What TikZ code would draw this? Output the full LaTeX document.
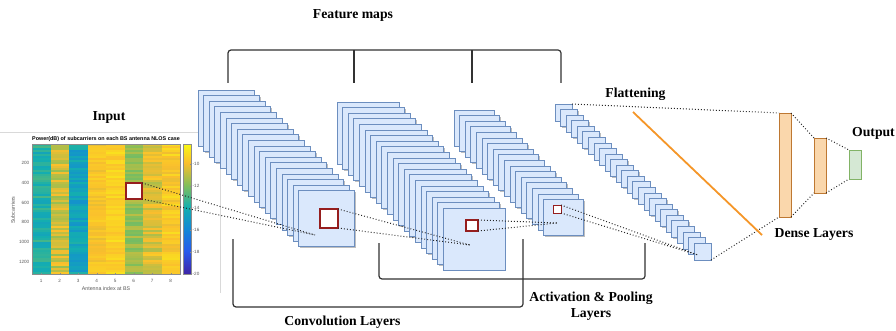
\documentclass[tikz,border=0pt]{standalone}
\usepackage{fontspec}
\setmainfont{Liberation Serif}
\newfontfamily\plotfont{Liberation Sans}
\definecolor{mapf}{RGB}{218,232,252}
\definecolor{mapb}{RGB}{108,142,191}
\definecolor{shadc}{RGB}{190,190,190}
\definecolor{densef}{RGB}{250,215,172}
\definecolor{denseb}{RGB}{190,120,50}
\definecolor{outf}{RGB}{213,232,212}
\definecolor{outb}{RGB}{130,179,102}
\definecolor{orangel}{RGB}{245,150,40}
\definecolor{redsq}{RGB}{150,30,30}
\definecolor{brk}{RGB}{50,50,50}
\definecolor{pc0}{RGB}{62,38,168}
\definecolor{pc1}{RGB}{40,90,235}
\definecolor{pc2}{RGB}{20,135,215}
\definecolor{pc3}{RGB}{20,175,175}
\definecolor{pc4}{RGB}{130,190,90}
\definecolor{pc5}{RGB}{250,190,45}
\definecolor{pc6}{RGB}{249,250,20}
\newcommand\hmmix[4]{\pgfmathsetmacro\hp{(\hv-#3)/(#4-#3)*100}\colorlet{hmc}{#2!\hp!#1}}
\newcommand\hmcolor[1]{%
  \pgfmathsetmacro\hv{max(0,min(1,#1))}%
  \pgfmathtruncatemacro\hseg{\hv<0.17?0:(\hv<0.34?1:(\hv<0.51?2:(\hv<0.68?3:(\hv<0.85?4:5))))}%
  \ifcase\hseg
    \hmmix{pc0}{pc1}{0}{0.17}\or
    \hmmix{pc1}{pc2}{0.17}{0.34}\or
    \hmmix{pc2}{pc3}{0.34}{0.51}\or
    \hmmix{pc3}{pc4}{0.51}{0.68}\or
    \hmmix{pc4}{pc5}{0.68}{0.85}\or
    \hmmix{pc5}{pc6}{0.85}{1.0}\fi}
\begin{document}
\begin{tikzpicture}[x=1pt,y=-1pt,
  lbl/.style={font=\bfseries\fontsize{13.7}{16}\selectfont, inner sep=0, text=black},
  tiny/.style={font=\plotfont\fontsize{4.6}{5}\selectfont, inner sep=0, text=black!65},
  fmap/.style={draw=mapb, fill=mapf, line width=0.7pt, inner sep=0, outer sep=0, anchor=north west},
  shad/.style={fill=shadc},
  rsq/.style={draw=redsq, fill=white, line width=1.1pt, inner sep=0, outer sep=0, anchor=north west},
  dense/.style={draw=denseb, fill=densef, line width=0.8pt, inner sep=0, outer sep=0, anchor=north west, minimum width=12pt},
  outl/.style={draw=outb, fill=outf, line width=0.8pt, inner sep=0, outer sep=0, anchor=north west, minimum width=12pt},
  dots/.style={line width=1pt, dash pattern=on 0.9pt off 2.1pt, black!85},
  bracket/.style={draw=brk, line width=1.2pt, rounded corners=3pt},
  ]
\useasboundingbox (0,0) rectangle (896,331);
\fill[white] (0,0) rectangle (896,331);

% ---------- screenshot of the input plot ----------
\draw[black!15, line width=0.8pt] (0,132) -- (220,132) -- (220,293);
\pgfmathsetseed{11}
\foreach \c/\base/\amp in {1/0.53/0.07,2/0.79/0.08,3/0.46/0.07,4/0.86/0.04,5/0.90/0.04,6/0.71/0.05,7/0.81/0.07,8/0.88/0.05}{
  \foreach \r in {0,...,64}{
    \pgfmathsetmacro\vv{\base+(rnd-0.5)*2*\amp}
    \hmcolor{\vv}
    \fill[hmc] ({32+(\c-1)*18.5},{144+2*\r}) rectangle ++(18.7,2.15);
  }
}
\draw[black!45, line width=0.4pt] (32,144) rectangle (180,274);
% colorbar
\foreach \k in {0,...,129}{
  \pgfmathsetmacro\vv{(\k+0.5)/130}
  \hmcolor{\vv}
  \fill[hmc] (183,{273-\k}) rectangle ++(8,1.1);
}
\draw[black!45, line width=0.4pt] (183,144) rectangle (191,274);
\foreach \d/\y in {-10/164,-12/186,-14/208,-16/230,-18/252,-20/274}{
  \draw[black!45, line width=0.3pt] (191,\y) -- ++(-1.2,0);
  \node[tiny, anchor=west] at (192.5,\y) {\d};
}
\foreach \n in {200,400,600,800,1000,1200}{
  \pgfmathsetmacro\yy{143.5+\n*0.0985}
  \draw[black!45, line width=0.3pt] (32,\yy) -- ++(1.2,0);
  \node[tiny, anchor=east] at (29.5,\yy) {\n};
}
\foreach \c in {1,...,8}{
  \pgfmathsetmacro\xx{32+18.5*(\c-0.5)}
  \draw[black!45, line width=0.3pt] (\xx,274) -- ++(0,-1.2);
  \node[tiny] at (\xx,281) {\c};
}
\node[font=\plotfont\bfseries\fontsize{5.4}{6}\selectfont, inner sep=0] (ptitle) at (106,139) {Power(dB) of subcarriers on each BS antenna NLOS case};
\node[tiny, font=\plotfont\fontsize{5.3}{6}\selectfont] (xlab) at (106,288.5) {Antenna index at BS};
\node[tiny, font=\plotfont\fontsize{5.3}{6}\selectfont, rotate=90] (ylab) at (13,210) {Subcarriers};
\node[rsq, minimum width=16pt, minimum height=16pt] (r0) at (126,183) {};

% ---------- feature map blocks ----------
\foreach \i in {0,...,18}{
  \fill[shad] ({198+5.6*\i+1},{90+5.6*\i+1}) rectangle ++(56,56);
  \node[fmap, minimum width=56pt, minimum height=56pt] (a\i) at ({198+5.6*\i},{90+5.6*\i}) {};
}
\foreach \i in {0,...,19}{
  \fill[shad] ({337+5.6*\i+1},{102+5.6*\i+1}) rectangle ++(62,62);
  \node[fmap, minimum width=62pt, minimum height=62pt] (b\i) at ({337+5.6*\i},{102+5.6*\i}) {};
}
\foreach \i in {0,...,16}{
  \fill[shad] ({454+5.6*\i+1},{110+5.6*\i+1}) rectangle ++(40,36);
  \node[fmap, minimum width=40pt, minimum height=36pt] (c\i) at ({454+5.6*\i},{110+5.6*\i}) {};
}
\foreach \i in {0,...,25}{
  \fill[shad] ({555+5.56*\i+1},{104+5.56*\i+1}) rectangle ++(17,17);
  \node[fmap, minimum width=17pt, minimum height=17pt] (f\i) at ({555+5.56*\i},{104+5.56*\i}) {};
}
\node[rsq, minimum width=18pt, minimum height=19pt] (r1) at (320,209) {};
\node[rsq, minimum width=12pt, minimum height=11pt] (r2) at (466,220) {};
\node[rsq, minimum width=8pt, minimum height=8pt, line width=0.9pt] (r3) at (553,205) {};

% ---------- dense layers ----------
\node[dense, minimum height=104pt] (d1) at (779,113) {};
\node[dense, minimum height=55pt] (d2) at (814,138) {};
\node[outl, minimum height=29pt] (o1) at (849,150) {};

% ---------- connectors ----------
\coordinate (p1) at (315,235);
\coordinate (p2) at (470,245);
\coordinate (p3) at (557,223);
\coordinate (p4) at (698,255);
\draw[dots] (r0.north east) -- (p1);
\draw[dots] (r0.south east) -- (p1);
\draw[dots] (r1.north east) -- (p2);
\draw[dots] (r1.south east) -- (p2);
\draw[dots] (r2.north east) -- (p3);
\draw[dots] (r2.south east) -- (p3);
\draw[dots] (r3.north east) -- (p4);
\draw[dots] (r3.south east) -- (p4);
\draw[dots] (f0.north east) -- (d1.north west);
\draw[dots] (f25.south east) -- (d1.south west);
\draw[dots] (d1.north east) -- (d2.north west);
\draw[dots] (d1.south east) -- (d2.south west);
\draw[dots] (d2.north east) -- (o1.north west);
\draw[dots] (d2.south east) -- (o1.south west);
\coordinate (oa) at (633,112);
\coordinate (ob) at (762,235);
\draw[orangel, line width=1.8pt] (oa) -- (ob);

% ---------- brackets ----------
\coordinate (t1) at (228,83);
\coordinate (t2) at (354,83);
\coordinate (t3) at (472,83);
\coordinate (t4) at (561,83);
\draw[bracket] (t1) -- (228,50) -- (561,50) -- (t4);
\draw[bracket] (t2) -- (354,50);
\draw[bracket] (t3) -- (472,50);
\coordinate (cv1) at (233,239);
\coordinate (cv2) at (523,239);
\draw[bracket] (cv1) -- (233,307) -- (523,307) -- (cv2);
\coordinate (ap1) at (379,243);
\coordinate (ap2) at (645,243);
\draw[bracket] (ap1) -- (379,279) -- (645,279) -- (ap2);

% ---------- labels ----------
\node[lbl] (lfm) at (353,15) {Feature maps};
\node[lbl] (lin) at (109,117) {Input};
\node[lbl] (lfl) at (635.5,94) {Flattening};
\node[lbl, anchor=east] (lout) at (895,133) {Output};
\node[lbl] (lde) at (814,234) {Dense Layers};
\node[lbl] (lcv) at (342.5,322) {Convolution Layers};
\node[lbl, align=center, font=\bfseries\fontsize{13.7}{16}\selectfont] (lap) at (591,306) {Activation \& Pooling\\Layers};
\end{tikzpicture}
\end{document}
